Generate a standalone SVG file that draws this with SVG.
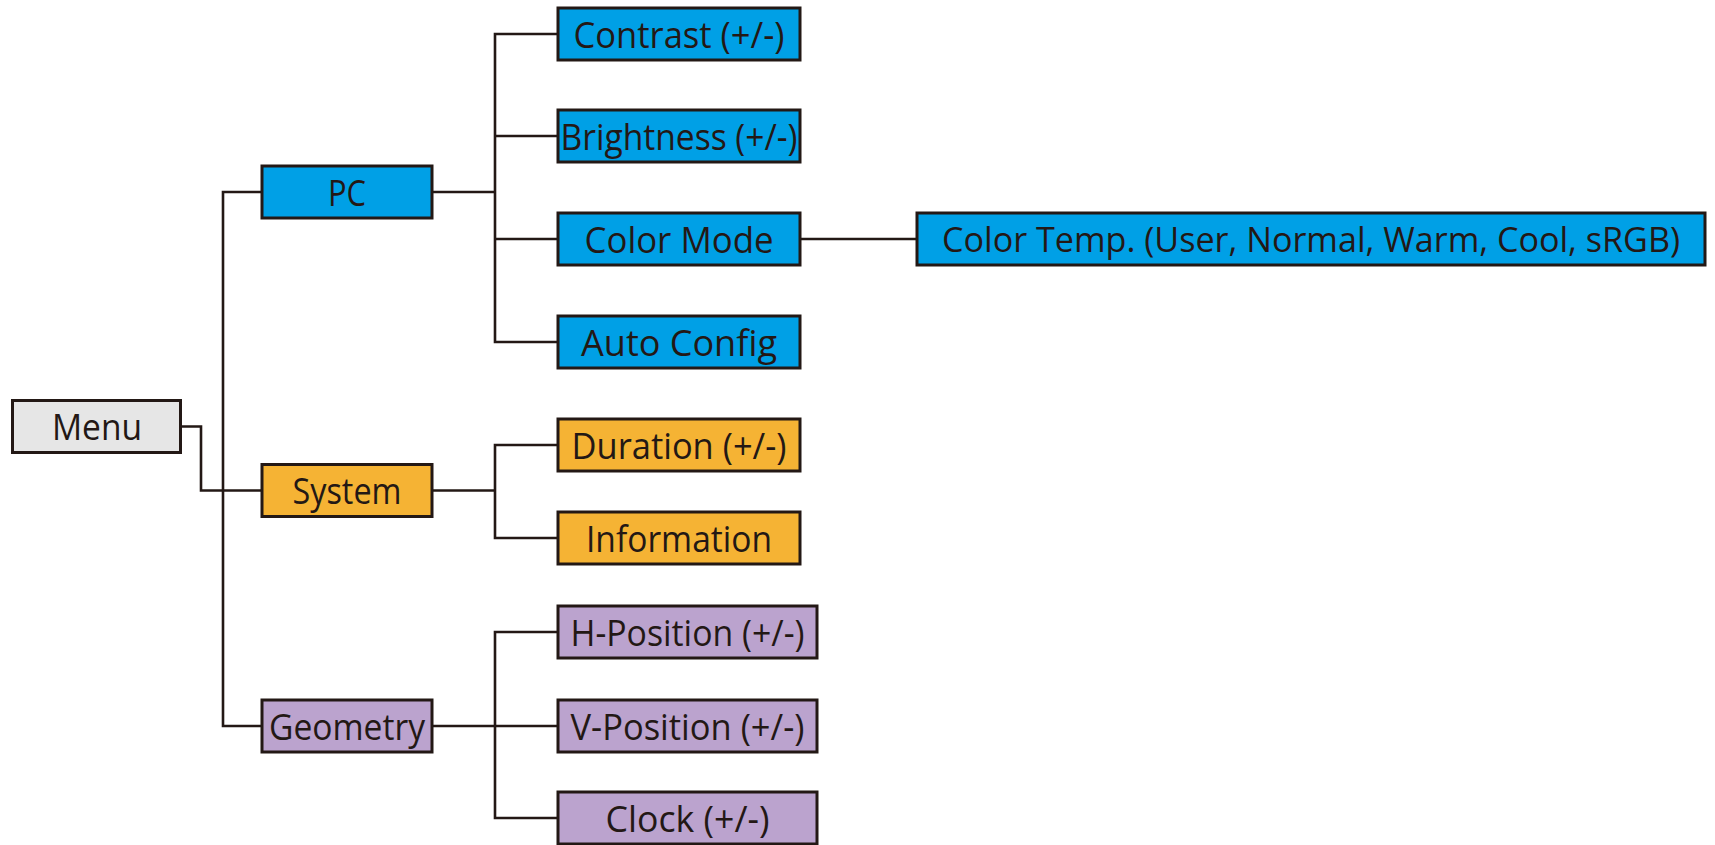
<svg xmlns="http://www.w3.org/2000/svg" width="1715" height="845" viewBox="0 0 1715 845">
<style>
.box{stroke:#231815;stroke-width:3}
.pc{fill:#00A0E6}
.sys{fill:#F5B334}
.geo{fill:#BBA3CE}
.root{fill:#E6E6E6}
.lbl{font-family:"Open Sans","Noto Sans",sans-serif;font-size:36px;fill:#231815;text-anchor:middle}
.conn{fill:none;stroke:#231815;stroke-width:2.6}
</style>
<rect width="1715" height="845" fill="#fff"/>
<g id="connectors">
<polyline class="conn" points="182,426.5 201,426.5 201,490.5 262,490.5"/>
<polyline class="conn" points="262,192 223,192 223,726 262,726"/>
<line class="conn" x1="432" y1="192" x2="495" y2="192"/>
<polyline class="conn" points="558,34 495,34 495,342 558,342"/>
<line class="conn" x1="495" y1="136" x2="558" y2="136"/>
<line class="conn" x1="495" y1="239" x2="558" y2="239"/>
<line class="conn" x1="800" y1="239" x2="917" y2="239"/>
<line class="conn" x1="432" y1="490.5" x2="495" y2="490.5"/>
<polyline class="conn" points="558,445 495,445 495,538 558,538"/>
<line class="conn" x1="432" y1="726" x2="558" y2="726"/>
<polyline class="conn" points="558,632 495,632 495,818 558,818"/>
</g>
<g id="menu"><rect class="box root" x="12.5" y="400.5" width="168" height="52"/><text class="lbl" x="97" y="440" textLength="90" lengthAdjust="spacingAndGlyphs">Menu</text></g>
<g id="pc"><rect class="box pc" x="262" y="166" width="170" height="52"/><text class="lbl" x="347" y="205.5" textLength="38" lengthAdjust="spacingAndGlyphs">PC</text></g>
<g id="system"><rect class="box sys" x="262" y="464.5" width="170" height="52"/><text class="lbl" x="347" y="504" textLength="109" lengthAdjust="spacingAndGlyphs">System</text></g>
<g id="geometry"><rect class="box geo" x="262" y="700" width="170" height="52"/><text class="lbl" x="347" y="739.5" textLength="156" lengthAdjust="spacingAndGlyphs">Geometry</text></g>
<g id="contrast"><rect class="box pc" x="558" y="8" width="242" height="52"/><text class="lbl" x="679" y="47.5" textLength="211" lengthAdjust="spacingAndGlyphs">Contrast (+/-)</text></g>
<g id="brightness"><rect class="box pc" x="558" y="110" width="242" height="52"/><text class="lbl" x="679" y="149.5" textLength="237" lengthAdjust="spacingAndGlyphs">Brightness (+/-)</text></g>
<g id="colormode"><rect class="box pc" x="558" y="213" width="242" height="52"/><text class="lbl" x="679" y="252.5" textLength="189" lengthAdjust="spacingAndGlyphs">Color Mode</text></g>
<g id="autoconfig"><rect class="box pc" x="558" y="316" width="242" height="52"/><text class="lbl" x="679" y="355.5" textLength="196" lengthAdjust="spacingAndGlyphs">Auto Config</text></g>
<g id="colortemp"><rect class="box pc" x="917" y="213" width="788" height="52"/><text class="lbl" x="1311" y="252" style="font-size:35px" textLength="738" lengthAdjust="spacingAndGlyphs">Color Temp. (User, Normal, Warm, Cool, sRGB)</text></g>
<g id="duration"><rect class="box sys" x="558" y="419" width="242" height="52"/><text class="lbl" x="679" y="458.5" textLength="215" lengthAdjust="spacingAndGlyphs">Duration (+/-)</text></g>
<g id="information"><rect class="box sys" x="558" y="512" width="242" height="52"/><text class="lbl" x="679" y="551.5" textLength="186" lengthAdjust="spacingAndGlyphs">Information</text></g>
<g id="hposition"><rect class="box geo" x="558" y="606" width="259" height="52"/><text class="lbl" x="687.5" y="645.5" textLength="234" lengthAdjust="spacingAndGlyphs">H-Position (+/-)</text></g>
<g id="vposition"><rect class="box geo" x="558" y="700" width="259" height="52"/><text class="lbl" x="687.5" y="739.5" textLength="234" lengthAdjust="spacingAndGlyphs">V-Position (+/-)</text></g>
<g id="clock"><rect class="box geo" x="558" y="792" width="259" height="52"/><text class="lbl" x="687.5" y="831.5" textLength="164" lengthAdjust="spacingAndGlyphs">Clock (+/-)</text></g>
</svg>
